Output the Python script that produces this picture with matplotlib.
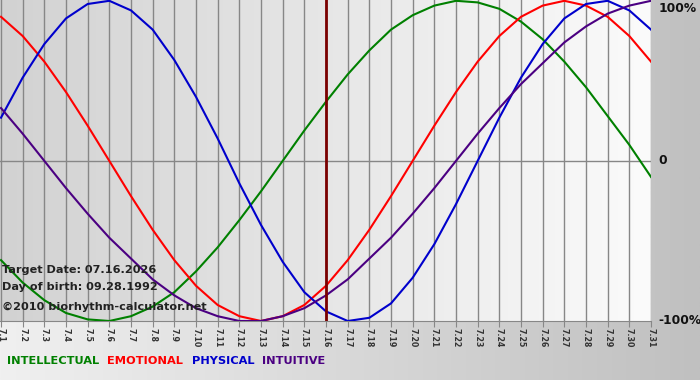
import numpy as np
import matplotlib
matplotlib.use("Agg")
import matplotlib.pyplot as plt

# --- data (one value per day, 7.1 .. 7.31) ---
day_labels = ["7.%d" % d for d in range(1, 32)]
physical = [0.27, 0.52, 0.73, 0.89, 0.98, 1.00, 0.94, 0.82, 0.63, 0.40, 0.14,
            -0.14, -0.40, -0.63, -0.82, -0.94, -1.00, -0.98, -0.89, -0.73, -0.52,
            -0.27, 0.00, 0.27, 0.52, 0.73, 0.89, 0.98, 1.00, 0.94, 0.82]
emotional = [0.90, 0.78, 0.62, 0.43, 0.22, 0.00, -0.22, -0.43, -0.62, -0.78, -0.90,
             -0.97, -1.00, -0.97, -0.90, -0.78, -0.62, -0.43, -0.22, 0.00, 0.22,
             0.43, 0.62, 0.78, 0.90, 0.97, 1.00, 0.97, 0.90, 0.78, 0.62]
intellectual = [-0.62, -0.76, -0.87, -0.95, -0.99, -1.00, -0.97, -0.91, -0.82, -0.69,
                -0.54, -0.37, -0.19, 0.00, 0.19, 0.37, 0.54, 0.69, 0.82, 0.91, 0.97,
                1.00, 0.99, 0.95, 0.87, 0.76, 0.62, 0.46, 0.28, 0.10, -0.10]
intuitive = [0.33, 0.17, 0.00, -0.17, -0.33, -0.48, -0.61, -0.74, -0.84, -0.92, -0.97,
             -1.00, -1.00, -0.97, -0.92, -0.84, -0.74, -0.61, -0.48, -0.33, -0.17,
             0.00, 0.17, 0.33, 0.48, 0.61, 0.74, 0.84, 0.92, 0.97, 1.00]
target_day = "7.16"
info_lines = ["Target Date: 07.16.2026", "Day of birth: 09.28.1992",
              "\u00a92010 biorhythm-calculator.net"]

colors = {"INTELLECTUAL": "#008000", "EMOTIONAL": "#ff0000",
          "PHYSICAL": "#0000cc", "INTUITIVE": "#4b0082"}

W, H = 700, 380
fig = plt.figure(figsize=(W / 100, H / 100), dpi=100)

# figure background gradient
bg = fig.add_axes([0, 0, 1, 1], zorder=-10)
grad = np.linspace(0, 1, 256)[None, :]
bg.imshow(grad, cmap=matplotlib.colors.LinearSegmentedColormap.from_list(
    "bg", ["#f0f0f0", "#c0c0c0"]), aspect="auto", extent=[0, 1, 0, 1])
bg.set_axis_off()

x = np.arange(len(day_labels))
ax = fig.add_axes([0, 1 - 321 / H, 651 / W, 321 / H])
ax.set_facecolor("none")
ax.set_xlim(-1 / 21.67, len(x) - 1)
ax.set_ylim(-1.0, 1.005)

# plot area gradient
ax.imshow(grad, cmap=matplotlib.colors.LinearSegmentedColormap.from_list(
    "pa", ["#d2d2d2", "#fbfbfb"]), aspect="auto",
    extent=[ax.get_xlim()[0], ax.get_xlim()[1], -1.0, 1.005], zorder=0)

for xi in x:
    ax.axvline(xi, color="#878787", lw=1, zorder=1)
ax.axhline(0, color="#878787", lw=1, zorder=1)

ax.plot(x, intellectual, color=colors["INTELLECTUAL"], lw=1.5, zorder=3)
ax.plot(x, emotional, color=colors["EMOTIONAL"], lw=1.5, zorder=3)
ax.plot(x, physical, color=colors["PHYSICAL"], lw=1.5, zorder=3)
ax.plot(x, intuitive, color=colors["INTUITIVE"], lw=1.5, zorder=3)

ax.axvline(day_labels.index(target_day), color="#7a0000", lw=2, zorder=4)

for s in ["top", "left", "right"]:
    ax.spines[s].set_visible(False)
ax.spines["bottom"].set_color("#878787")
ax.set_yticks([])
ax.set_xticks(x)
ax.set_xticklabels(day_labels, rotation=270, fontsize=5.7, fontweight="bold",
                   color="#333333")
ax.tick_params(axis="x", length=4, color="#878787", pad=1)

# y labels at the right
fig.text(659 / W, 1 - 8 / H, "100%", fontsize=8.8, fontweight="bold",
         color="#111111", va="center", ha="left")
fig.text(658 / W, 1 - 161 / H, "0", fontsize=8.8, fontweight="bold",
         color="#111111", va="center", ha="left")
fig.text(658 / W, 1 - 321 / H, "-100%", fontsize=8.8, fontweight="bold",
         color="#111111", va="center", ha="left")

# info text
for line, ypx in zip(info_lines, [270, 287, 307]):
    fig.text(2 / W, 1 - ypx / H, line, fontsize=8.1, fontweight="bold",
             color="#222222", va="center", ha="left", zorder=10)

# legend
for name, xpx in zip(colors, [7, 107, 192, 262]):
    fig.text(xpx / W, 1 - 361 / H, name, fontsize=8.2, fontweight="bold",
             color=colors[name], va="center", ha="left")

fig.savefig("out.png", dpi=100)
